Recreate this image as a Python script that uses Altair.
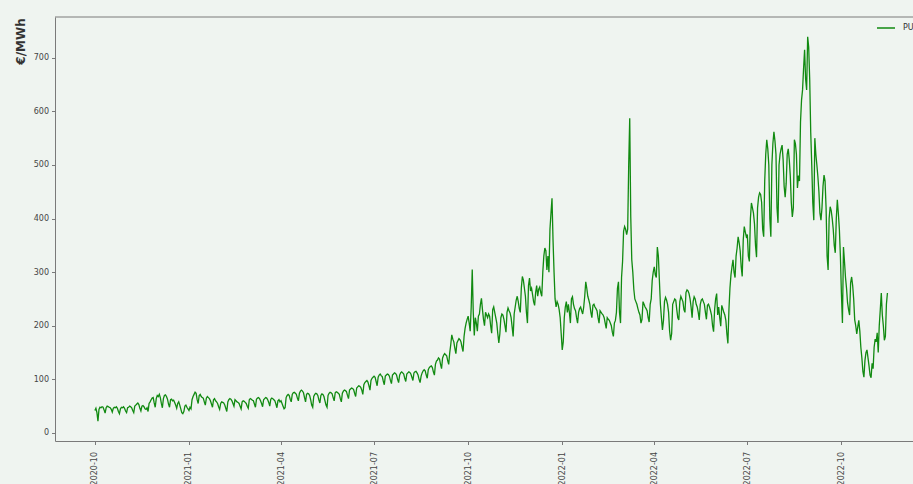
import altair as alt
import pandas as pd

# Daily PUN price (EUR/MWh), one list per calendar month, starting 2020-10-01
pun_2020_10 = [42,46,38,22,44,48,47,49,48,43,37,47,50,49,48,47,44,39,46,48,47,49,46,40,36,45,48,47,49,46,41]
pun_2020_11 = [38,47,48,50,49,47,42,38,50,52,54,56,53,46,41,50,51,49,45,44,47,40,55,58,62,65,66,56,48,64]
pun_2020_12 = [70,68,72,66,55,47,64,70,71,68,63,54,48,62,63,60,61,57,52,46,55,58,52,45,38,36,40,50,52,48,45]
pun_2021_01 = [42,48,45,62,68,72,76,74,62,55,70,72,68,66,65,58,52,65,68,66,64,60,54,48,62,64,60,58,55,49,44]
pun_2021_02 = [55,58,57,56,52,46,40,58,62,64,63,60,55,50,62,60,58,57,55,50,45,58,60,59,57,55,50,46]
pun_2021_03 = [62,64,63,61,60,54,48,63,65,66,64,60,55,49,62,64,66,65,62,57,50,63,65,64,62,60,54,47,60,62,58]
pun_2021_04 = [60,55,50,45,47,66,70,72,70,63,58,72,75,76,74,72,65,60,74,78,80,78,75,66,58,72,74,73,70,62]
pun_2021_05 = [52,48,68,72,74,73,70,62,56,70,73,72,68,60,52,48,70,74,76,75,73,66,60,75,77,76,74,72,64,58,74]
pun_2021_06 = [78,80,79,77,70,64,80,82,84,83,81,74,68,84,86,88,87,85,80,72,90,94,96,98,95,88,80,98,102,104]
pun_2021_07 = [106,104,96,88,104,108,110,107,105,97,90,106,108,110,109,106,98,92,108,110,112,111,108,100,94,108,112,114,112,110,102]
pun_2021_08 = [96,110,112,114,113,110,104,98,112,114,115,112,108,100,94,106,112,116,118,116,108,102,118,122,124,125,122,114,108,128,134]
pun_2021_09 = [136,140,138,128,120,140,145,148,146,144,135,128,150,165,183,175,170,158,148,168,172,176,174,170,160,152,180,195,205,212]
pun_2021_10 = [218,205,190,235,305,225,182,215,205,190,218,222,240,251,230,212,200,225,220,215,222,218,200,186,230,235,225,215,205,185,168]
pun_2021_11 = [185,215,222,220,212,200,188,225,233,228,224,215,198,180,222,235,248,255,245,232,225,270,292,285,270,255,225,205,275,289]
pun_2021_12 = [265,270,258,245,238,262,275,255,268,272,262,255,300,330,345,340,304,330,300,380,410,438,360,300,250,235,245,240,230,215,185]
pun_2022_01 = [155,170,215,235,245,225,240,225,205,250,254,240,232,228,215,205,225,232,235,228,222,235,255,282,270,255,248,240,225,215,238]
pun_2022_02 = [240,235,232,228,215,205,228,225,222,220,215,205,195,215,212,210,205,200,188,180,205,210,225,270,282,225,205,290]
pun_2022_03 = [320,376,385,380,370,380,500,587,404,323,300,268,250,245,240,232,225,220,205,212,245,240,235,232,228,215,207,240,250,285,300]
pun_2022_04 = [310,295,290,347,330,285,240,215,192,210,245,253,248,240,225,190,173,185,240,245,250,248,230,215,211,245,255,250,245,230]
pun_2022_05 = [225,262,267,265,260,250,235,215,245,254,250,240,235,225,211,240,248,250,245,240,225,212,238,240,235,228,220,200,189,230,250]
pun_2022_06 = [260,220,235,215,199,238,232,225,220,210,185,167,230,270,295,310,323,300,290,330,345,366,355,340,310,292,360,385,375,366]
pun_2022_07 = [370,330,320,400,429,420,410,390,350,328,420,440,448,445,430,380,366,470,520,547,530,500,400,366,500,540,562,545,520,420,392]
pun_2022_08 = [500,520,530,537,510,460,440,466,520,530,510,480,430,403,420,547,540,520,457,480,470,580,621,640,680,715,660,640,739,720,659]
pun_2022_09 = [560,500,430,397,550,520,500,478,450,410,397,420,460,481,470,420,330,304,400,422,415,400,380,350,336,400,435,410,380,330]
pun_2022_10 = [260,205,347,320,290,270,243,230,220,280,291,275,250,211,200,185,198,210,190,160,140,115,104,135,150,155,140,125,108,103,130]
pun_2022_11 = [120,160,175,170,187,150,200,230,261,220,200,173,180,240,261]

monthly = [
    pun_2020_10, pun_2020_11, pun_2020_12,
    pun_2021_01, pun_2021_02, pun_2021_03, pun_2021_04, pun_2021_05, pun_2021_06,
    pun_2021_07, pun_2021_08, pun_2021_09, pun_2021_10, pun_2021_11, pun_2021_12,
    pun_2022_01, pun_2022_02, pun_2022_03, pun_2022_04, pun_2022_05, pun_2022_06,
    pun_2022_07, pun_2022_08, pun_2022_09, pun_2022_10, pun_2022_11,
]
prices = [v for month in monthly for v in month]
dates = pd.date_range("2020-10-01", periods=len(prices), freq="D").strftime("%Y-%m-%d")
df = pd.DataFrame({"date": dates, "price": prices})

# Quarterly tick positions on the date axis
tick_dates = [(2020, 10), (2021, 1), (2021, 4), (2021, 7), (2021, 10),
              (2022, 1), (2022, 4), (2022, 7), (2022, 10)]
y_ticks = [0, 100, 200, 300, 400, 500, 600, 700]
series_label = ["PUN"]

W, H = 858, 424
BG = "#eff4f0"
SPINE = "#7a7a7a"
FONT = "DejaVu Sans"

x_enc = alt.X(
    "date:T",
    scale=alt.Scale(
        type="utc",
        domain=[alt.DateTime(year=2020, month=8, date=23, utc=True),
                alt.DateTime(year=2022, month=12, date=10, utc=True)],
    ),
    axis=alt.Axis(
        values=[alt.DateTime(year=y, month=m, date=1, utc=True) for y, m in tick_dates],
        labelExpr="utcFormat(datum.value, '%Y-%m')",
        labelAngle=-90, labelFontSize=8,
        labelColor="#444", labelFont=FONT, tickSize=3.5, tickColor=SPINE,
        domainColor=SPINE, labelPadding=7, grid=False, title=None,
    ),
)
y_enc = alt.Y(
    "price:Q",
    scale=alt.Scale(domain=[-15, 776], nice=False, zero=False),
    axis=alt.Axis(
        values=y_ticks, labelFontSize=8, labelColor="#444", labelFont=FONT,
        tickSize=3.5, tickColor=SPINE, domainColor=SPINE, labelPadding=3,
        grid=False, title="€/MWh", titleFont=FONT, titleFontSize=12,
        titleFontWeight="bold", titleColor="#333", titleAngle=-90,
        titleX=-35, titleY=24, titleAlign="center", titleBaseline="middle",
    ),
)

line = alt.Chart(df).mark_line(color="#118a11", strokeWidth=1.3, clip=True).encode(
    x=x_enc, y=y_enc
)

lab = pd.DataFrame({"label": series_label})
top_spine = alt.Chart(lab).mark_rule(color=SPINE, strokeWidth=1).encode(
    x=alt.value(0), x2=alt.value(W), y=alt.value(0)
)
legend_line = alt.Chart(lab).mark_rule(color="#118a11", strokeWidth=1.5).encode(
    x=alt.value(822), x2=alt.value(840), y=alt.value(11)
)
legend_text = alt.Chart(lab).mark_text(
    align="left", baseline="middle", fontSize=8, font=FONT, color="#333"
).encode(x=alt.value(848), y=alt.value(11), text="label:N")

chart = (
    alt.layer(line, top_spine, legend_line, legend_text)
    .properties(
        width=W, height=H, background=BG,
        padding={"left": 55, "top": 17, "right": 0, "bottom": 43},
        autosize=alt.AutoSizeParams(type="none"),
    )
    .configure_view(stroke=None)
)

chart.save("out.html", embed_options={"renderer": "svg", "actions": False})
